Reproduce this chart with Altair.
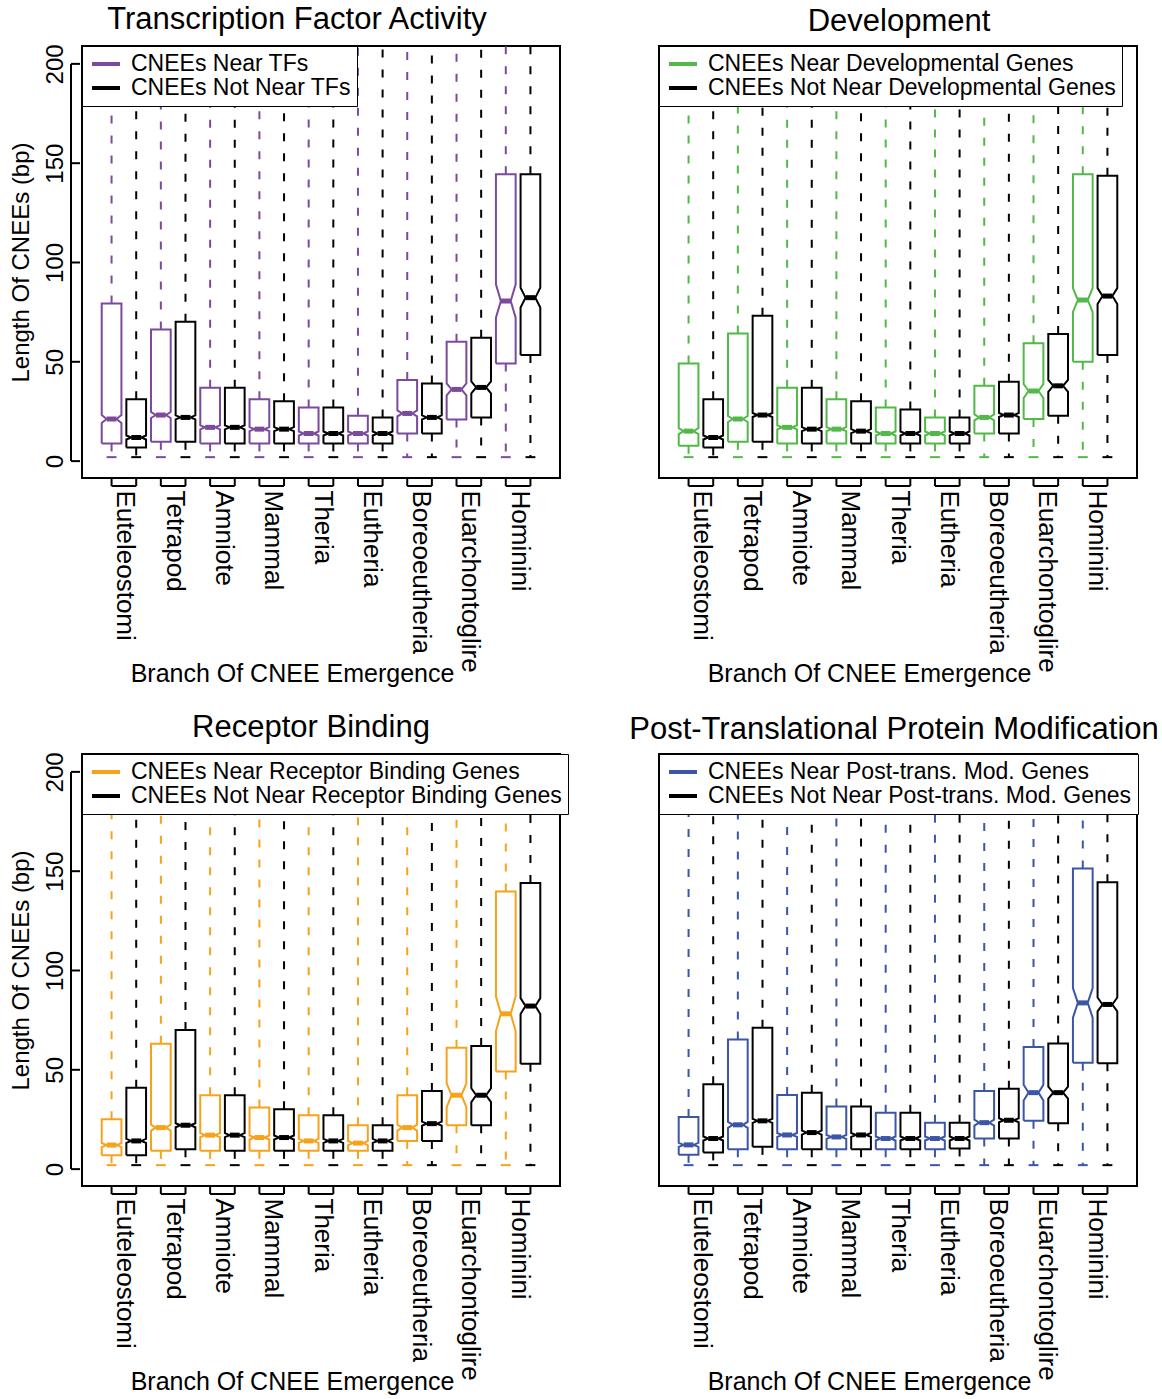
import altair as alt
import pandas as pd

FONT = "Liberation Sans"

branches = ["Euteleostomi", "Tetrapod", "Amniote", "Mammal", "Theria",
            "Eutheria", "Boreoeutheria", "Euarchontoglire", "Hominini"]

# ---------- Transcription Factor Activity ----------
tf_near_low = [2, 2, 2, 2, 2, 2, 2, 2, 2]
tf_near_q1 = [8.9, 9.7, 8.9, 8.9, 8.9, 8.9, 13.9, 21.0, 49.2]
tf_near_med = [21.2, 23.2, 17.0, 16.1, 13.9, 13.9, 24.0, 36.1, 80.6]
tf_near_q3 = [79.4, 66.3, 36.9, 31.1, 27.0, 22.8, 40.8, 60.1, 144.4]
tf_near_notch = [2.0, 1.5, 1.0, 1.0, 1.0, 1.0, 1.5, 3.0, 8.4]
tf_near_high = [220, 220, 220, 220, 220, 220, 220, 220, 220]

tf_not_low = [2, 2, 2, 2, 2, 2, 2, 2, 2]
tf_not_q1 = [6.9, 9.7, 8.9, 8.9, 8.9, 8.9, 13.9, 22.0, 53.4]
tf_not_med = [11.9, 22.0, 17.0, 16.1, 13.9, 13.9, 22.0, 37.1, 82.3]
tf_not_q3 = [31.1, 70.2, 36.9, 30.2, 27.0, 22.0, 39.1, 62.1, 144.4]
tf_not_notch = [1.0, 1.0, 1.0, 1.0, 1.0, 1.0, 1.0, 3.0, 5.0]
tf_not_high = [220, 220, 220, 220, 220, 220, 220, 220, 220]

# ---------- Development ----------
dev_near_low = [2, 2, 2, 2, 2, 2, 2, 2, 2]
dev_near_q1 = [7.7, 9.7, 8.9, 8.9, 8.9, 8.9, 13.9, 21.2, 50.0]
dev_near_med = [15.1, 21.2, 17.0, 16.1, 13.9, 13.9, 22.0, 35.3, 81.1]
dev_near_q3 = [49.2, 64.3, 36.9, 31.1, 27.0, 22.0, 37.9, 59.3, 144.4]
dev_near_notch = [1.5, 1.5, 1.0, 1.0, 1.0, 1.0, 1.5, 3.5, 6.0]
dev_near_high = [220, 220, 220, 220, 220, 220, 220, 220, 220]

dev_not_low = [2, 2, 2, 2, 2, 2, 2, 2, 2]
dev_not_q1 = [6.9, 9.7, 8.9, 8.9, 8.9, 8.9, 13.9, 22.8, 53.4]
dev_not_med = [11.9, 23.2, 16.1, 15.1, 13.9, 13.9, 23.2, 37.9, 83.1]
dev_not_q3 = [31.1, 73.2, 36.9, 30.2, 26.0, 22.0, 39.9, 64.0, 143.7]
dev_not_notch = [1.0, 1.0, 1.0, 1.0, 1.0, 1.0, 1.0, 3.0, 4.0]
dev_not_high = [220, 220, 220, 220, 220, 220, 220, 220, 220]

# ---------- Receptor Binding ----------
rb_near_low = [2, 2, 2, 2, 2, 2, 2, 2, 2]
rb_near_q1 = [7.0, 9.2, 9.2, 9.2, 9.2, 9.2, 14.2, 22.1, 49.1]
rb_near_med = [12.1, 20.9, 17.1, 15.9, 14.2, 13.1, 20.9, 37.2, 78.2]
rb_near_q3 = [25.1, 63.1, 37.2, 31.0, 27.1, 22.1, 37.2, 61.1, 139.8]
rb_near_notch = [1.0, 1.5, 1.0, 1.0, 1.0, 1.0, 1.5, 6.0, 8.8]
rb_near_high = [220, 220, 220, 220, 220, 220, 220, 220, 220]

rb_not_low = [2, 2, 2, 2, 2, 2, 2, 2, 2]
rb_not_q1 = [7.0, 10.0, 9.2, 9.2, 9.2, 9.2, 14.2, 22.1, 53.1]
rb_not_med = [14.2, 22.1, 17.1, 15.9, 14.2, 14.2, 22.9, 37.2, 82.1]
rb_not_q3 = [41.0, 70.0, 37.2, 30.1, 27.1, 22.1, 39.3, 62.0, 144.0]
rb_not_notch = [1.0, 1.0, 1.0, 1.0, 1.0, 1.0, 1.0, 3.5, 4.0]
rb_not_high = [220, 220, 220, 220, 220, 220, 220, 220, 220]

# ---------- Post-Translational Protein Modification ----------
pt_near_low = [2, 2, 2, 2, 2, 2, 2, 2, 2]
pt_near_q1 = [7.2, 10.0, 10.0, 10.0, 10.0, 10.0, 15.4, 24.3, 53.6]
pt_near_med = [12.2, 22.3, 17.2, 16.2, 15.4, 15.4, 23.4, 38.5, 83.7]
pt_near_q3 = [26.3, 65.3, 37.3, 31.5, 28.4, 23.4, 39.3, 61.5, 151.3]
pt_near_notch = [1.0, 1.5, 1.0, 1.0, 1.0, 1.0, 1.5, 4.0, 7.5]
pt_near_high = [220, 220, 220, 220, 220, 220, 220, 220, 220]

pt_not_low = [2, 2, 2, 2, 2, 2, 2, 2, 2]
pt_not_q1 = [8.4, 11.2, 10.0, 10.0, 10.0, 10.4, 15.4, 23.1, 53.3]
pt_not_med = [15.4, 24.3, 18.4, 17.2, 15.4, 15.4, 24.6, 38.5, 82.9]
pt_not_q3 = [42.7, 71.2, 38.5, 31.5, 28.4, 23.4, 40.5, 63.3, 144.4]
pt_not_notch = [1.0, 1.0, 1.0, 1.0, 1.0, 1.0, 1.0, 3.0, 3.5]
pt_not_high = [220, 220, 220, 220, 220, 220, 220, 220, 220]

y_ticks = [0, 50, 100, 150, 200]

panels = [
    dict(title="Transcription Factor Activity", dx=-24, yaxis=True, color="#7B4A9C",
         near="CNEEs Near TFs", notn="CNEEs Not Near TFs",
         near_vals=(tf_near_low, tf_near_q1, tf_near_med, tf_near_q3, tf_near_notch, tf_near_high),
         not_vals=(tf_not_low, tf_not_q1, tf_not_med, tf_not_q3, tf_not_notch, tf_not_high)),
    dict(title="Development", dx=1, yaxis=False, color="#52B848",
         near="CNEEs Near Developmental Genes", notn="CNEEs Not Near Developmental Genes",
         near_vals=(dev_near_low, dev_near_q1, dev_near_med, dev_near_q3, dev_near_notch, dev_near_high),
         not_vals=(dev_not_low, dev_not_q1, dev_not_med, dev_not_q3, dev_not_notch, dev_not_high)),
    dict(title="Receptor Binding", dx=-10, yaxis=True, color="#F7A21B",
         near="CNEEs Near Receptor Binding Genes", notn="CNEEs Not Near Receptor Binding Genes",
         near_vals=(rb_near_low, rb_near_q1, rb_near_med, rb_near_q3, rb_near_notch, rb_near_high),
         not_vals=(rb_not_low, rb_not_q1, rb_not_med, rb_not_q3, rb_not_notch, rb_not_high)),
    dict(title="Post-Translational Protein Modification", dx=-4, yaxis=False, color="#3B56A6",
         near="CNEEs Near Post-trans. Mod. Genes", notn="CNEEs Not Near Post-trans. Mod. Genes",
         near_vals=(pt_near_low, pt_near_q1, pt_near_med, pt_near_q3, pt_near_notch, pt_near_high),
         not_vals=(pt_not_low, pt_not_q1, pt_not_med, pt_not_q3, pt_not_notch, pt_not_high)),
]

W, H = 478, 432
XDOM = [-0.2, 19.2]
YDOM = [-8.5, 209]
HW = 0.4      # box half width (boxwex 0.8)
NF = 0.5      # notch fraction
SW = 0.2      # staple half width
DASH = [8, 12]

label_expr = "[" + ",".join("'%s'" % b for b in branches) + "][round((datum.value - 1.5) / 2)]"
label_vals = [2 * k + 1.5 for k in range(len(branches))]


def box_table(p):
    rows = []
    for gi, (label, vals) in enumerate([(p["near"], p["near_vals"]), (p["notn"], p["not_vals"])]):
        low, q1, med, q3, notch, high = vals
        for k, br in enumerate(branches):
            pos = 2 * k + 1 + gi
            rows.append(dict(box=f"{gi}_{k}", group=label, branch=br, pos=pos,
                             low=low[k], q1=q1[k], med=med[k], q3=q3[k],
                             notch=notch[k], high=high[k],
                             s0=pos - SW, s1=pos + SW,
                             m0=pos - HW * NF, m1=pos + HW * NF))
    return pd.DataFrame(rows)


def outline_table(df):
    rows = []
    dxs = [-HW, HW, HW, HW * NF, HW, HW, -HW, -HW, -HW * NF, -HW, -HW]
    for r in df.itertuples():
        ys = [r.q1, r.q1, r.med - r.notch, r.med, r.med + r.notch, r.q3, r.q3,
              r.med + r.notch, r.med, r.med - r.notch, r.q1]
        for i, (dx, y) in enumerate(zip(dxs, ys)):
            rows.append(dict(box=r.box, group=r.group, order=i, px=r.pos + dx, py=y))
    return pd.DataFrame(rows)


def make_panel(p):
    df = box_table(p)
    outline = outline_table(df)
    brackets = pd.DataFrame({"a": [2 * k + 1 for k in range(len(branches))],
                             "b": [2 * k + 2 for k in range(len(branches))]})
    bticks = pd.DataFrame({"t": [v for k in range(len(branches)) for v in (2 * k + 1, 2 * k + 2)]})

    xs = alt.Scale(domain=XDOM, nice=False, zero=False)
    ys = alt.Scale(domain=YDOM, nice=False, zero=False)

    xaxis = alt.Axis(values=label_vals, labelExpr=label_expr, labelAngle=90,
                     labelAlign="left", labelBaseline="middle", labelPadding=12,
                     labelOffset=1, labelLimit=400,
                     labelFontSize=26, labelFont=FONT, labelColor="black",
                     labelOverlap=False, labelFlush=False, labelBound=False,
                     ticks=False, domain=False, grid=False,
                     title="Branch Of CNEE Emergence", titleFontSize=25, titleFont=FONT,
                     titleFontWeight="normal", titleColor="black",
                     titleX=210, titleY=183, titleBaseline="top", titleAnchor="middle")
    if p["yaxis"]:
        yaxis = alt.Axis(values=y_ticks, labelAngle=-90, labelAlign="center",
                         labelBaseline="bottom", labelPadding=15, labelFontSize=24,
                         labelFont=FONT, labelColor="black", ticks=False, domain=False,
                         grid=False, title="Length Of CNEEs (bp)", titleFontSize=24,
                         titleFont=FONT, titleFontWeight="normal", titleColor="black",
                         titlePadding=10)
    else:
        yaxis = None

    def X(f):
        return alt.X(f, type="quantitative", scale=xs, axis=xaxis)

    def Y(f):
        return alt.Y(f, type="quantitative", scale=ys, axis=yaxis)

    color = alt.Color("group:N",
                      scale=alt.Scale(domain=[p["near"], p["notn"]], range=[p["color"], "black"]),
                      legend=alt.Legend(title=None, orient="top-left", offset=0,
                                        fillColor="white", strokeColor="black",
                                        padding=6, labelFontSize=23, labelFont=FONT,
                                        labelColor="black", symbolType="M-0.8,0H2",
                                        symbolStrokeWidth=4, symbolSize=400, labelOffset=19,
                                        rowPadding=0, labelLimit=1000))

    base = alt.Chart(df)
    upper = base.mark_rule(strokeDash=DASH, strokeWidth=2, clip=True).encode(
        x=X("pos"), y=Y("q3"), y2="high", color=color)
    lower = base.mark_rule(strokeDash=DASH, strokeWidth=2).encode(
        x=X("pos"), y=Y("q1"), y2="low", color=color)
    staple = base.mark_rule(strokeWidth=2).encode(
        x=X("s0"), x2="s1", y=Y("low"), color=color)
    boxes = alt.Chart(outline).mark_line(strokeWidth=2).encode(
        x=X("px"), y=Y("py"), detail="box:N", order=alt.Order("order:Q"), color=color)
    medians = base.mark_rule(strokeWidth=5, strokeCap="butt").encode(
        x=X("m0"), x2="m1", y=Y("med"), color=color)

    bh = alt.Chart(brackets).mark_rule(color="black", strokeWidth=2).encode(
        x=X("a"), x2="b", y=alt.value(H + 8))
    bv = alt.Chart(bticks).mark_rule(color="black", strokeWidth=2).encode(
        x=X("t"), y=alt.value(H), y2=alt.value(H + 8))

    layers = [upper, lower, staple, boxes, medians, bh, bv]

    if p["yaxis"]:
        yl = pd.DataFrame({"y0": [min(y_ticks)], "y1": [max(y_ticks)]})
        yt = pd.DataFrame({"v": y_ticks})
        ydom = alt.Chart(yl).mark_rule(color="black", strokeWidth=2).encode(
            x=alt.value(-11), y=Y("y0"), y2="y1")
        ytk = alt.Chart(yt).mark_rule(color="black", strokeWidth=2).encode(
            x=alt.value(-11), x2=alt.value(-2), y=Y("v"))
        layers += [ydom, ytk]

    return alt.layer(*layers).properties(
        width=W, height=H,
        title=alt.TitleParams(p["title"], fontSize=31, font=FONT, fontWeight="normal",
                              anchor="middle", frame="group", dx=p["dx"], offset=8,
                              color="black"))


charts = [make_panel(p) for p in panels]

chart = alt.concat(*charts, columns=2, spacing={"row": 276, "column": 99}, bounds="flush") \
    .resolve_scale(color="independent", x="independent", y="independent") \
    .resolve_legend(color="independent") \
    .configure_view(stroke="black", strokeWidth=2) \
    .properties(padding={"left": 8, "top": 2, "right": 0, "bottom": 0}, background="white")

chart.save("out.html", embed_options={"renderer": "svg", "actions": False})
